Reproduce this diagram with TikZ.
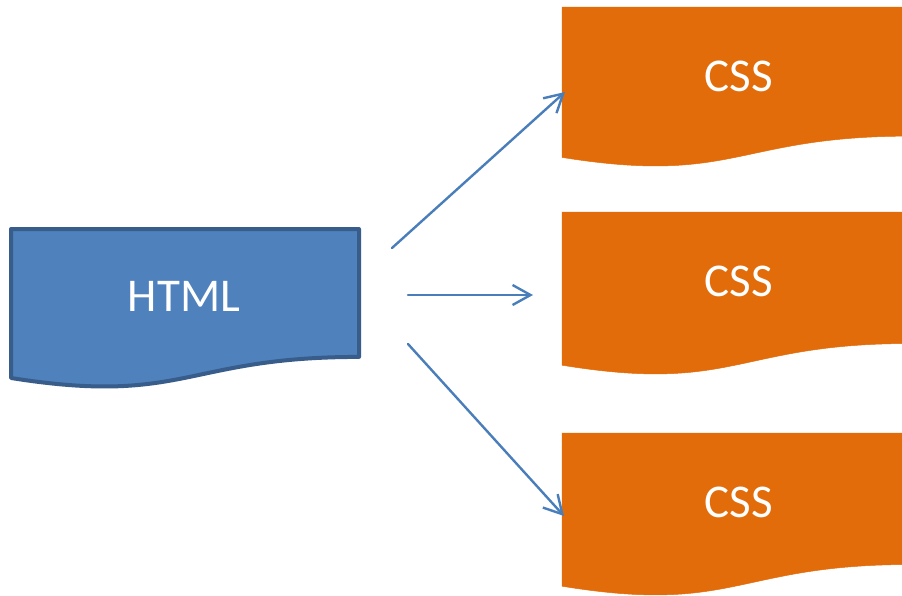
\documentclass[tikz,border=0pt]{standalone}
\usepackage{fontspec}
\setmainfont{Carlito}
\usetikzlibrary{arrows.meta}
\definecolor{htmlfill}{HTML}{4F81BD}
\definecolor{htmldraw}{HTML}{385D8A}
\definecolor{cssfill}{HTML}{E36C0A}
\definecolor{arrowblue}{HTML}{4A7EBB}
\newcommand{\docpath}[4]{(#1,#2) -- ({#1+#3},#2) -- ({#1+#3},{#2+0.802*#4}) .. controls ({#1+0.5*#3},{#2+0.802*#4}) and ({#1+0.5*#3},{#2+1.1075*#4}) .. (#1,{#2+0.934*#4}) -- cycle}
\tikzset{
  htmlshape/.style={fill=htmlfill, draw=htmldraw, line width=4pt, line join=round},
  cssshape/.style={fill=cssfill, draw=cssfill, line width=0.5pt, line join=round},
  label/.style={text=white, font=\fontsize{47}{56}\selectfont, inner sep=0pt},
  link/.style={draw=arrowblue, line width=2.4pt, line cap=round, -{Straight Barb[length=18pt,width=20pt,line width=2.4pt]}}
}
\begin{document}
\begin{tikzpicture}[x=1pt,y=-1pt]
\useasboundingbox (0,0) rectangle (902,595);
\clip (0,0) rectangle (902,595);
\fill[white] (0,0) rectangle (902,595);
% shapes
\path[htmlshape] \docpath{11}{229}{348}{159.5};
\path[cssshape] \docpath{562}{7}{348}{161};
\path[cssshape] \docpath{562}{212}{348}{164};
\path[cssshape] \docpath{562}{433}{348}{164};
% labels
\node[label] (html) at (184,296) {HTML};
\node[label] (css1) at (739,76) {CSS};
\node[label] (css2) at (739,281) {CSS};
\node[label] (css3) at (739,502) {CSS};
% connector end points
\coordinate (s1) at (392,248);
\coordinate (e1) at (565,92);
\coordinate (s2) at (408,295);
\coordinate (e2) at (533,295);
\coordinate (s3) at (408,344);
\coordinate (e3) at (564,516);
\draw[link] (s1) -- (e1);
\draw[link] (s2) -- (e2);
\draw[link] (s3) -- (e3);
\end{tikzpicture}
\end{document}
